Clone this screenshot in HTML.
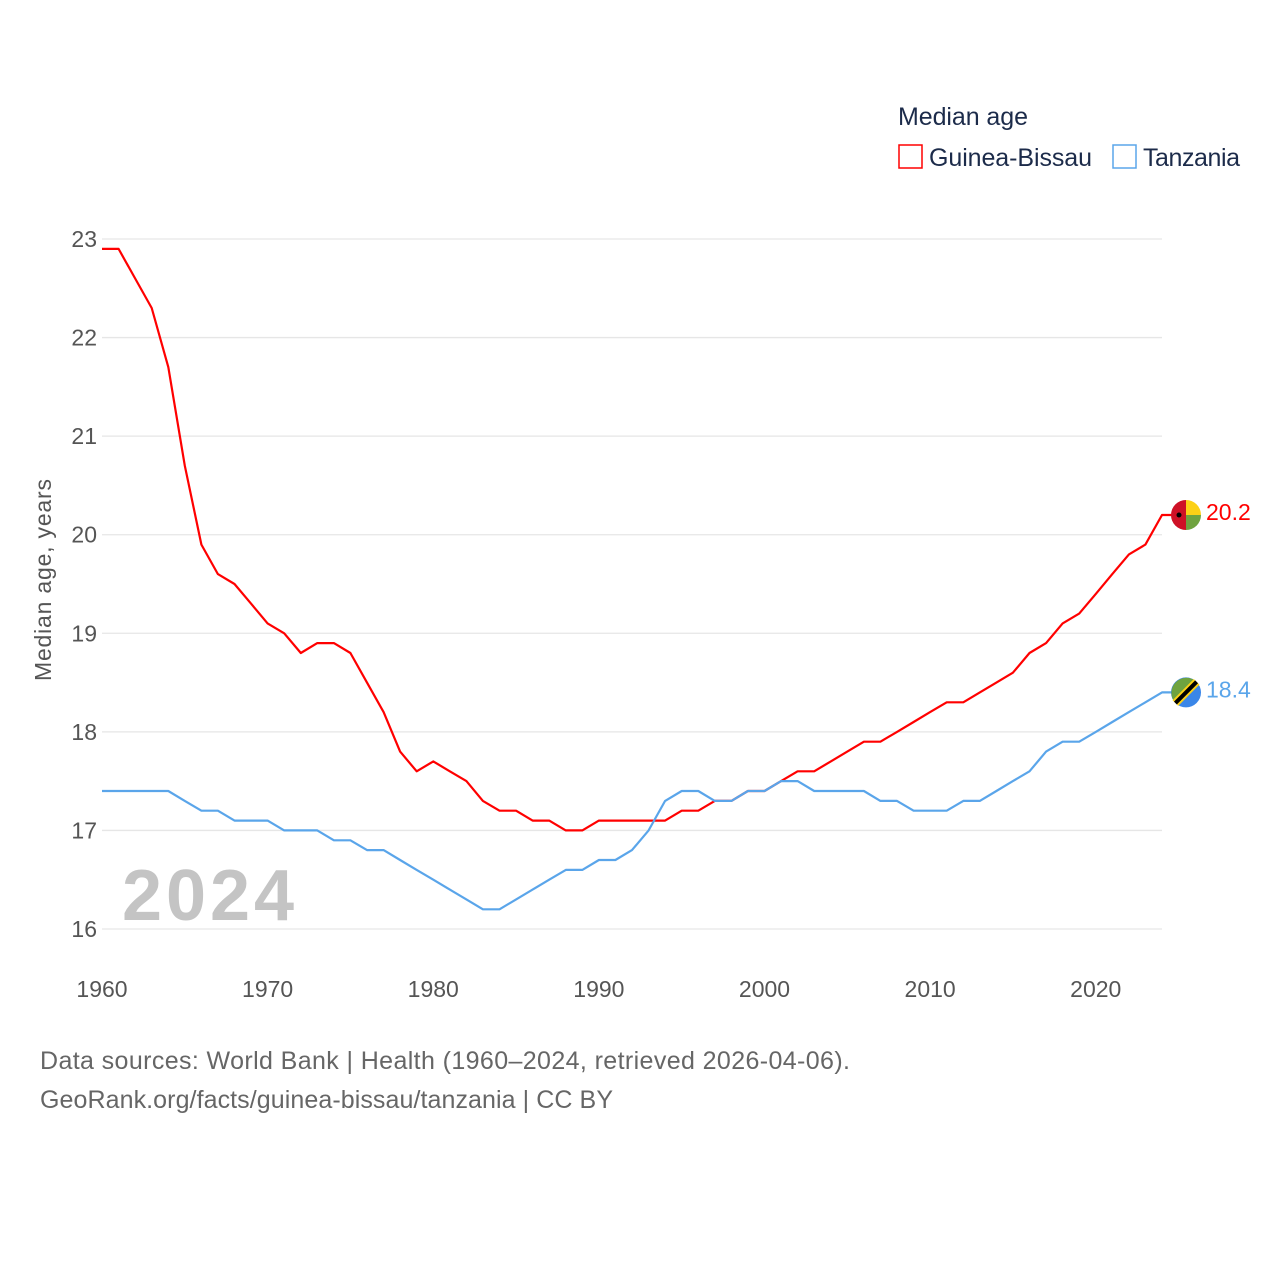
<!DOCTYPE html>
<html><head><meta charset="utf-8">
<style>
html,body{margin:0;padding:0;background:#fff;}
svg{display:block;font-family:"Liberation Sans",sans-serif;}
</style></head>
<body>
<svg id="chart" width="1280" height="1280" viewBox="0 0 1280 1280">
  <g>
    <text x="898" y="125" font-size="25" fill="#1c2b4a" textLength="130">Median age</text>
    <rect x="899" y="145" width="23" height="23" fill="none" stroke="#ff0000" stroke-width="1.5"/>
    <text x="929" y="166" font-size="25" fill="#1c2b4a" textLength="163">Guinea-Bissau</text>
    <rect x="1113" y="145" width="23" height="23" fill="none" stroke="#5aa5ea" stroke-width="1.5"/>
    <text x="1143" y="166" font-size="25" fill="#1c2b4a" textLength="97">Tanzania</text>
  </g>
  <g id="grid"></g>
  <g id="yticks"></g>
  <g id="xticks"></g>
  <text x="0" y="0" transform="translate(51,580) rotate(-90)" text-anchor="middle" font-size="23" fill="#555" textLength="202">Median age, years</text>
  <text x="122" y="920" font-size="72" font-weight="bold" fill="#c4c4c4" textLength="172">2024</text>
  <g id="series"></g>
  <text x="40" y="1069" font-size="25" fill="#666" textLength="810">Data sources: World Bank | Health (1960–2024, retrieved 2026-04-06).</text>
  <text x="40" y="1108" font-size="25" fill="#666" textLength="573">GeoRank.org/facts/guinea-bissau/tanzania | CC BY</text>
</svg>
<script>
const years = Array.from({length:65},(_,i)=>1960+i);
const guineaBissau = [22.9,22.9,22.6,22.3,21.7,20.7,19.9,19.6,19.5,19.3,19.1,19.0,18.8,18.9,18.9,18.8,18.5,18.2,17.8,17.6,17.7,17.6,17.5,17.3,17.2,17.2,17.1,17.1,17.0,17.0,17.1,17.1,17.1,17.1,17.1,17.2,17.2,17.3,17.3,17.4,17.4,17.5,17.6,17.6,17.7,17.8,17.9,17.9,18.0,18.1,18.2,18.3,18.3,18.4,18.5,18.6,18.8,18.9,19.1,19.2,19.4,19.6,19.8,19.9,20.2];
const tanzania = [17.4,17.4,17.4,17.4,17.4,17.3,17.2,17.2,17.1,17.1,17.1,17.0,17.0,17.0,16.9,16.9,16.8,16.8,16.7,16.6,16.5,16.4,16.3,16.2,16.2,16.3,16.4,16.5,16.6,16.6,16.7,16.7,16.8,17.0,17.3,17.4,17.4,17.3,17.3,17.4,17.4,17.5,17.5,17.4,17.4,17.4,17.4,17.3,17.3,17.2,17.2,17.2,17.3,17.3,17.4,17.5,17.6,17.8,17.9,17.9,18.0,18.1,18.2,18.3,18.4];
const yTicks = [16,17,18,19,20,21,22,23];
const xTicks = [1960,1970,1980,1990,2000,2010,2020];

const NS="http://www.w3.org/2000/svg";
const xS = y => 102 + (y-1960)*(1060/64);
const yS = v => 929 - (v-16)*(690/7);
function mk(tag, attrs, parent, txt){const e=document.createElementNS(NS,tag);for(const k in attrs)e.setAttribute(k,attrs[k]);if(txt!==undefined)e.textContent=txt;parent.appendChild(e);return e;}
const grid=document.getElementById('grid'), yt=document.getElementById('yticks'), xt=document.getElementById('xticks'), ser=document.getElementById('series');
yTicks.forEach(v=>{
  const l=mk('line',{x1:102,x2:1162,y1:yS(v),y2:yS(v),stroke:'#e6e6e6','stroke-width':1.3},grid);
  
  
  const t=mk('text',{x:97,y:yS(v)+8,'text-anchor':'end','font-size':23,fill:'#555'},yt,String(v));
  
  
});
xTicks.forEach(v=>{
  const t=mk('text',{x:xS(v),y:997,'text-anchor':'middle','font-size':23,fill:'#555'},xt,String(v));
  
  
});
function drawLine(vals,color,name){
  const pts=vals.map((v,i)=>xS(years[i]).toFixed(1)+','+yS(v).toFixed(1));
  const last=vals[vals.length-1];
  pts.push('1185,'+yS(last).toFixed(1));
  const p=mk('polyline',{points:pts.join(' '),fill:'none',stroke:color,'stroke-width':2.2,'stroke-linejoin':'round'},ser);
  
  
  const lab=mk('text',{x:1206,y:yS(last)+5,'font-size':23,fill:color},ser,last.toFixed(1));
  
  
  return yS(last);
}
const gy=drawLine(guineaBissau,'#ff0000','guinea-bissau');
const ty=drawLine(tanzania,'#5aa5ea','tanzania');
const cx=1186;
const gf=mk('g',{},ser);


mk('path',{d:`M${cx},${gy-15} A15,15 0 0 0 ${cx},${gy+15} Z`,fill:'#ce1126'},gf);
mk('path',{d:`M${cx},${gy-15} A15,15 0 0 1 ${cx+15},${gy} L${cx},${gy} Z`,fill:'#fcd116'},gf);
mk('path',{d:`M${cx},${gy} L${cx+15},${gy} A15,15 0 0 1 ${cx},${gy+15} Z`,fill:'#6fa33f'},gf);
mk('circle',{cx:cx-7,cy:gy,r:2.5,fill:'#000'},gf);
const tf=mk('g',{},ser);


mk('circle',{cx:cx,cy:ty,r:15,fill:'#3a86e8'},tf);
mk('path',{d:`M${cx-10.6},${ty+10.6} A15,15 0 0 1 ${cx+10.6},${ty-10.6} Z`,fill:'#6fa33f'},tf);
mk('line',{x1:cx-10.6,y1:ty+10.6,x2:cx+10.6,y2:ty-10.6,stroke:'#fcd116','stroke-width':8},tf);
mk('line',{x1:cx-10.6,y1:ty+10.6,x2:cx+10.6,y2:ty-10.6,stroke:'#000','stroke-width':4},tf);
</script>
</body></html>
